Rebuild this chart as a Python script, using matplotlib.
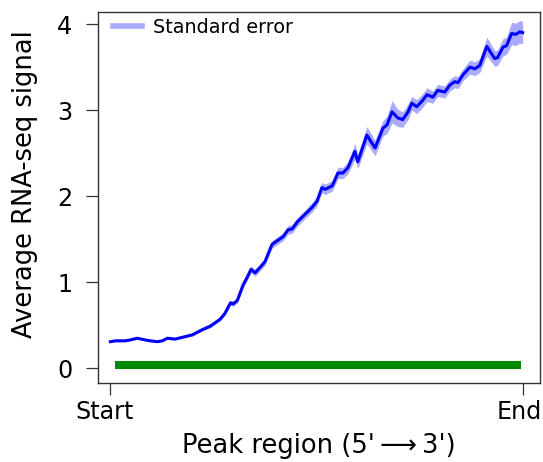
"""
Average RNA-seq signal across peak regions, with standard error band.
"""
import matplotlib
matplotlib.use('Agg')
import matplotlib.pyplot as plt
import matplotlib.transforms as mtransforms
from matplotlib.lines import Line2D

# position along the peak region (0 = start, 100 = end)
positions = [0, 1.2, 2.4, 3.6, 4.8, 6.5, 8.5, 9.7, 11.4, 12.6, 13.8, 15.7, 17.4,
             19.9, 22.3, 24.2, 25.4, 26.6, 27.8, 29.1, 29.8, 30.8, 32.2, 33.2,
             34.1, 35.1, 36.8, 37.5, 39.2, 40.7, 41.9, 43.1, 44.1, 45.3, 47.0,
             48.9, 50.1, 51.3, 52.1, 53.8, 55.2, 56.4, 57.6, 59.3, 60.0, 62.2,
             64.2, 66.1, 67.1, 68.3, 69.7, 70.9, 72.2, 73.1, 74.3, 75.5, 76.8,
             78.2, 79.4, 81.1, 82.3, 83.5, 84.3, 85.5, 87.2, 88.4, 89.6, 91.3,
             93.2, 93.9, 95.2, 96.1, 97.3, 98.3, 99.3, 100]
signal = [0.31, 0.32, 0.32, 0.32, 0.33, 0.35, 0.33, 0.32, 0.31, 0.32, 0.35, 0.34,
          0.36, 0.39, 0.45, 0.49, 0.53, 0.57, 0.64, 0.76, 0.75, 0.79, 0.97, 1.06,
          1.15, 1.11, 1.20, 1.24, 1.44, 1.49, 1.53, 1.61, 1.62, 1.70, 1.78, 1.87,
          1.94, 2.10, 2.08, 2.12, 2.27, 2.27, 2.33, 2.52, 2.40, 2.71, 2.56, 2.79,
          2.83, 2.98, 2.91, 2.89, 2.98, 3.08, 3.04, 3.10, 3.18, 3.15, 3.23, 3.21,
          3.29, 3.33, 3.32, 3.41, 3.50, 3.48, 3.52, 3.74, 3.60, 3.61, 3.73, 3.75,
          3.89, 3.88, 3.91, 3.90]
std_err = [0.01, 0.01, 0.01, 0.01, 0.01, 0.01, 0.01, 0.01, 0.01, 0.01, 0.01, 0.01,
           0.01, 0.015, 0.015, 0.02, 0.02, 0.02, 0.025, 0.03, 0.03, 0.03, 0.035, 0.035,
           0.04, 0.04, 0.04, 0.04, 0.045, 0.045, 0.045, 0.05, 0.05, 0.05, 0.05, 0.055,
           0.055, 0.06, 0.06, 0.06, 0.065, 0.065, 0.07, 0.09, 0.08, 0.1, 0.09, 0.09,
           0.1, 0.13, 0.1, 0.09, 0.09, 0.08, 0.08, 0.08, 0.08, 0.07, 0.07, 0.07,
           0.07, 0.07, 0.07, 0.07, 0.08, 0.08, 0.08, 0.11, 0.09, 0.09, 0.1, 0.1,
           0.13, 0.13, 0.13, 0.13]

# background (control) level
control_positions = [1.2, 99.5]
control_signal = [0.04, 0.04]

tick_positions = [0, 100]
tick_labels = ['Start', 'End']
y_ticks = [0, 1, 2, 3, 4]

fig = plt.figure(figsize=(5.43, 4.62), dpi=100)
ax = fig.add_axes([0.1805, 0.1710, 0.8140, 0.8030])

lower = [s - e for s, e in zip(signal, std_err)]
upper = [s + e for s, e in zip(signal, std_err)]
ax.fill_between(positions, lower, upper, color='#aaaaff', linewidth=0)
ax.plot(positions, signal, color='#0000ff', linewidth=2.2)
ax.plot(control_positions, control_signal, color='#008a00', linewidth=5.8,
        solid_capstyle='butt')

ax.set_xlim(-3.0, 104.2)
ax.set_ylim(-0.17, 4.14)
ax.set_xticks(tick_positions)
ax.set_xticklabels(tick_labels)
ax.set_yticks(y_ticks)
ax.tick_params(direction='out', length=8.5, width=0.9, labelsize=17.2,
               color='#333333')
ax.tick_params(axis='x', pad=4)
ax.tick_params(axis='y', pad=10)
for sp in ax.spines.values():
    sp.set_color('#333333')
    sp.set_linewidth(1.0)

# shift the x tick labels a bit (Start sits left of its tick, End stays inside)
for lab, dx in zip(ax.get_xticklabels(), [-6, -3]):
    lab.set_transform(lab.get_transform() +
                      mtransforms.ScaledTranslation(dx / 100, 0, fig.dpi_scale_trans))

ax.set_xlabel("Peak region (5'\u2009\u27f6\u20093')", fontsize=18.5, labelpad=6)
ax.set_ylabel('Average RNA-seq signal', fontsize=18.5)
ax.yaxis.set_label_coords(-0.135, 0.535)

handle = Line2D([], [], color='#aaaaff', linewidth=4.0)
ax.legend([handle], ['Standard error'], loc='upper left', frameon=False,
          fontsize=13.8, handlelength=1.5, handletextpad=0.6,
          bbox_to_anchor=(0.034, 0.985), borderpad=0, borderaxespad=0)

plt.savefig('out.png', dpi=100)
